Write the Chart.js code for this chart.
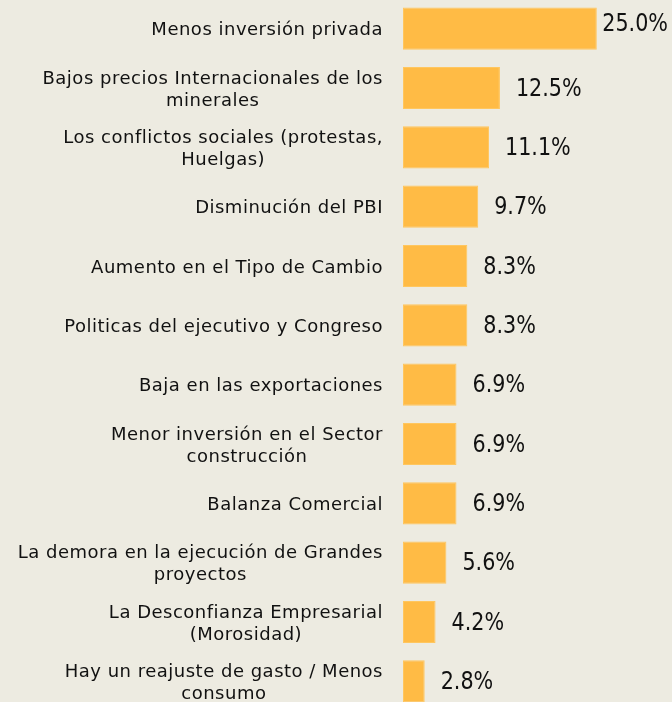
<!DOCTYPE html>
<html>
<head>
<meta charset="utf-8">
<script src="https://cdn.jsdelivr.net/npm/chart.js@4.4.1/dist/chart.umd.min.js"></script>
<style>
  html, body { margin: 0; padding: 0; background: #EDEBE1; overflow: hidden; }
  #wrap { position: relative; width: 672px; height: 712px; margin-top: -1px; }
</style>
</head>
<body>
<div id="wrap"><canvas id="c"></canvas></div>
<script>
const categories = [
  ["Menos inversión privada"],
  ["Bajos precios Internacionales de los", "minerales"],
  ["Los conflictos sociales (protestas,", "Huelgas)"],
  ["Disminución del PBI"],
  ["Aumento en el Tipo de Cambio"],
  ["Politicas del ejecutivo y Congreso"],
  ["Baja en las exportaciones"],
  ["Menor inversión en el Sector", "construcción"],
  ["Balanza Comercial"],
  ["La demora en la ejecución de Grandes", "proyectos"],
  ["La Desconfianza Empresarial", "(Morosidad)"],
  ["Hay un reajuste de gasto / Menos", "consumo"]
];
const values = [25.0, 12.5, 11.1, 9.7, 8.3, 8.3, 6.9, 6.9, 6.9, 5.6, 4.2, 2.8];
const valueLabels = ["25.0%", "12.5%", "11.1%", "9.7%", "8.3%", "8.3%", "6.9%", "6.9%", "6.9%", "5.6%", "4.2%", "2.8%"];

const LABEL_FONT = "18px 'DejaVu Sans', sans-serif";
const VALUE_FONT = "25px 'DejaVu Sans Condensed', 'DejaVu Sans', sans-serif";

const labelPlugin = {
  id: 'catLabels',
  afterDatasetsDraw(chart) {
    const ctx = chart.ctx;
    const meta = chart.getDatasetMeta(0);
    const area = chart.chartArea;
    ctx.save();
    // category labels
    ctx.font = LABEL_FONT;
    if ('letterSpacing' in ctx) ctx.letterSpacing = '0.5px';
    ctx.fillStyle = "#111111";
    ctx.textBaseline = "middle";
    ctx.textAlign = "left";
    const rightEdge = area.left - 20;
    const lineH = 22;
    meta.data.forEach((bar, i) => {
      const lines = categories[i];
      const widths = lines.map(l => ctx.measureText(l).width);
      const maxW = Math.max(...widths);
      const cx = rightEdge - maxW / 2;
      lines.forEach((l, j) => {
        const y = bar.y + 2 + (j - (lines.length - 1) / 2) * lineH;
        ctx.fillText(l, cx - widths[j] / 2, y);
      });
    });
    if ('letterSpacing' in ctx) ctx.letterSpacing = '0px';
    // value labels
    ctx.font = VALUE_FONT;
    ctx.textAlign = "left";
    const sx = 0.92;
    meta.data.forEach((bar, i) => {
      const txt = valueLabels[i];
      const w = ctx.measureText(txt).width * sx;
      let x = bar.x + 16;
      let y = bar.y + 1;
      if (x + w > area.right - 4) { x = area.right - 4 - w; y = bar.y - 4; }
      ctx.save();
      ctx.translate(x, y);
      ctx.scale(sx, 1);
      ctx.fillText(txt, 0, 0);
      ctx.restore();
    });
    ctx.restore();
  }
};

new Chart(document.getElementById('c'), {
  type: 'bar',
  data: {
    labels: categories.map(c => c.join(' ')),
    datasets: [{
      data: values,
      backgroundColor: '#FFBB45',
      borderColor: '#FFC65E',
      borderWidth: 1,
      borderSkipped: false,
      barPercentage: 0.71,
      categoryPercentage: 1.0
    }]
  },
  options: {
    indexAxis: 'y',
    responsive: true,
    maintainAspectRatio: false,
    animation: false,
    layout: { padding: 0 },
    plugins: { legend: { display: false }, tooltip: { enabled: false } },
    scales: {
      x: { display: false, min: 0, max: 34.7 },
      y: {
        grid: { display: false, drawTicks: false },
        border: { display: false },
        afterFit(scale) { scale.width = 403; },
        ticks: { display: false }
      }
    }
  },
  plugins: [labelPlugin]
});
</script>
</body>
</html>
